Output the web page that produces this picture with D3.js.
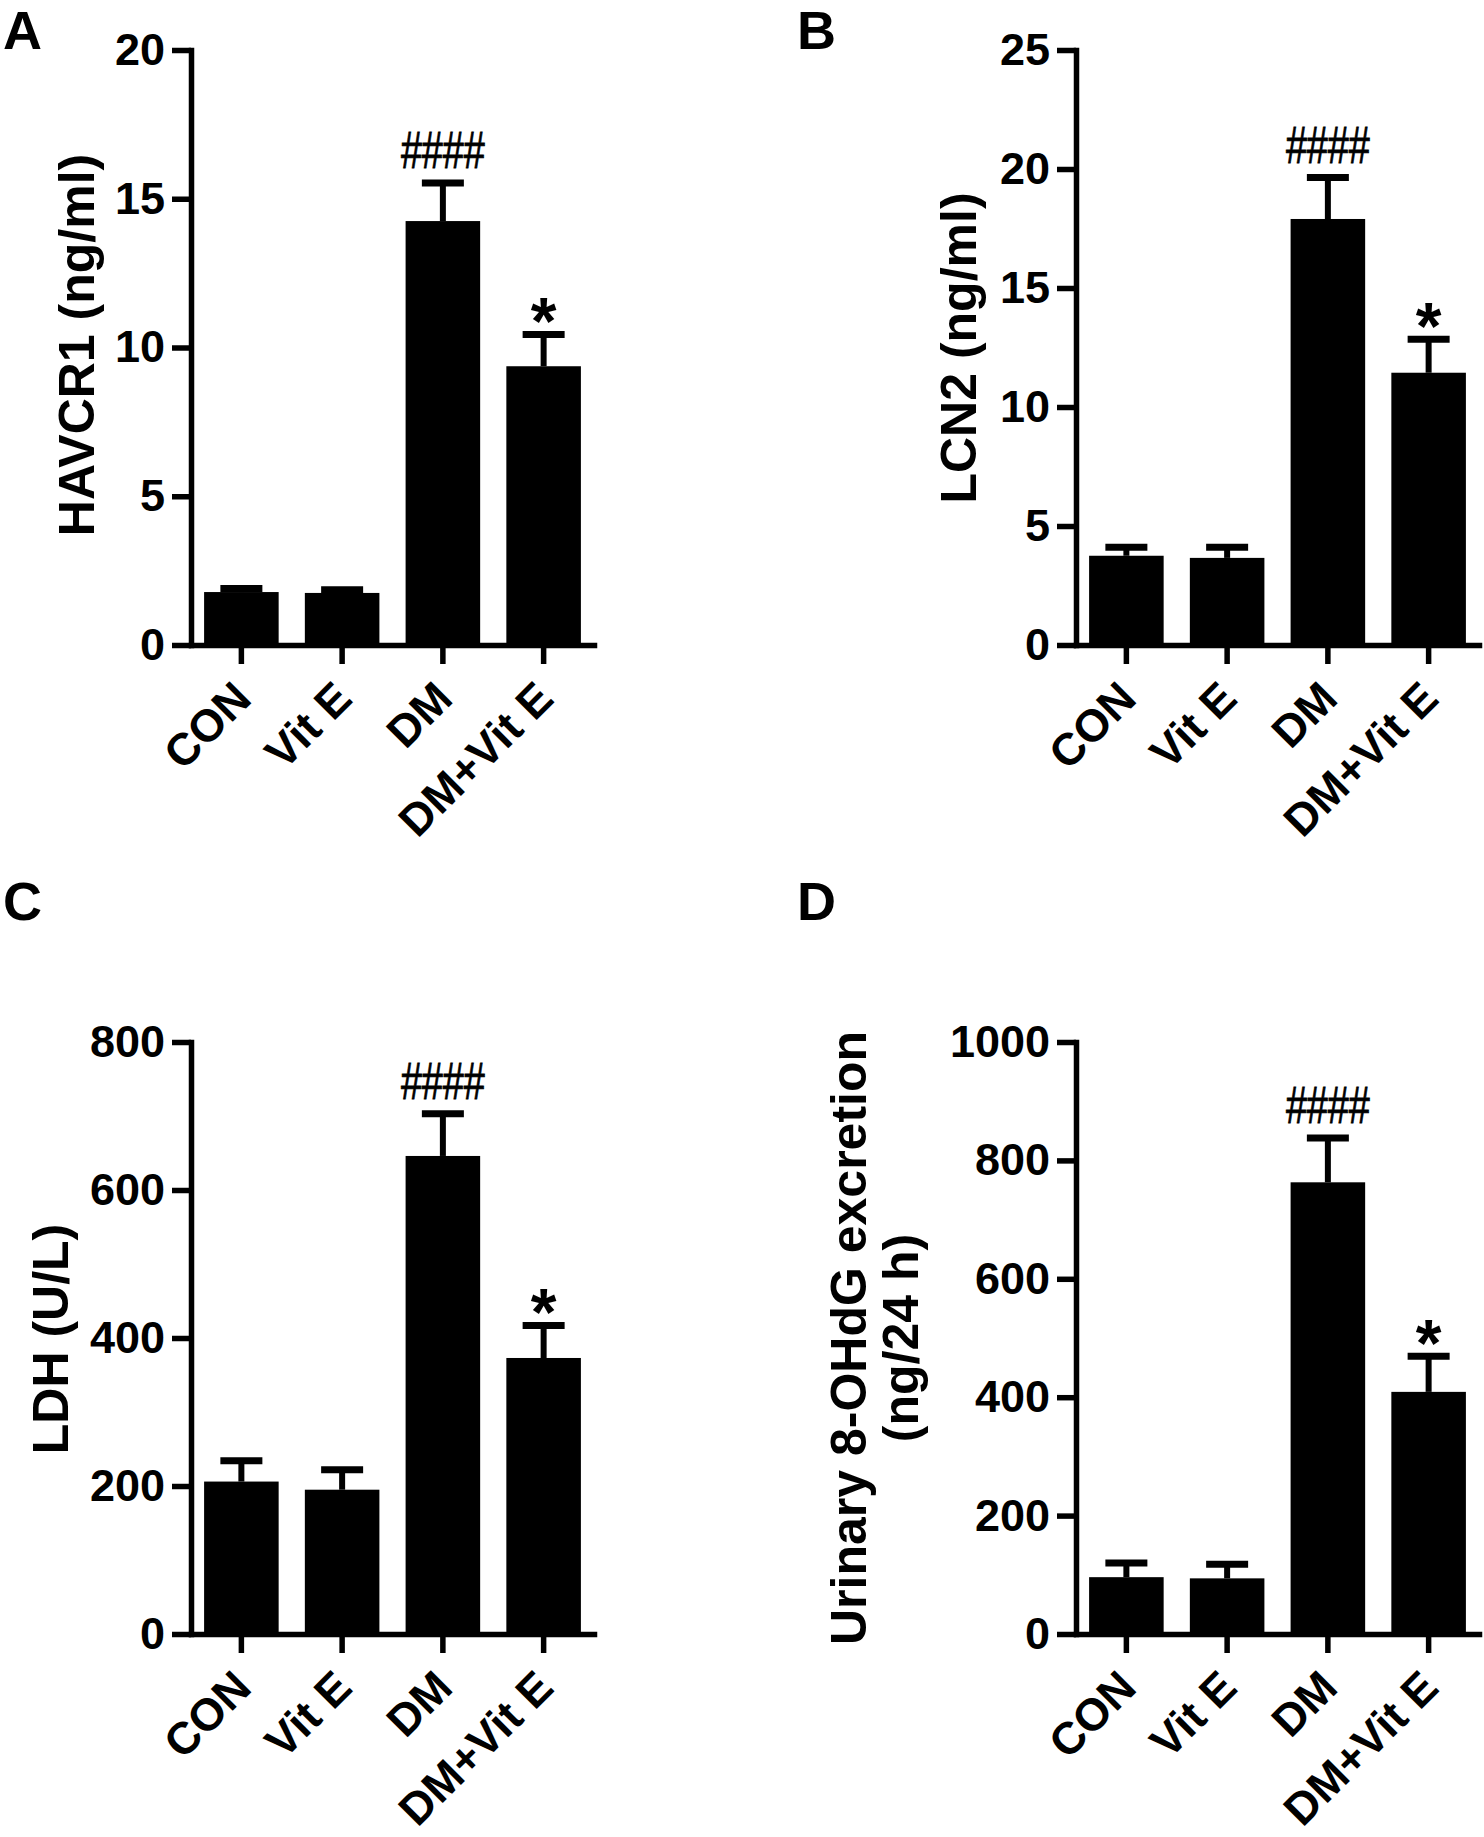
<!DOCTYPE html>
<html>
<head>
<meta charset="utf-8">
<script src="https://cdn.jsdelivr.net/npm/d3@7"></script>
<style>
body { margin: 0; background: #fff; }
text { font-family: "Liberation Sans", Arial, sans-serif; fill: #000; }
</style>
</head>
<body>
<svg id="fig" width="1484" height="1837"></svg>
<script>
var groups = ["CON", "Vit E", "DM", "DM+Vit E"];

var havcr1Mean = [1.78, 1.75, 14.25, 9.37];
var havcr1Err  = [0.12, 0.11, 1.28, 1.07];
var havcr1Ticks = [0, 5, 10, 15, 20];

var lcn2Mean = [3.75, 3.66, 17.9, 11.44];
var lcn2Err  = [0.36, 0.45, 1.74, 1.41];
var lcn2Ticks = [0, 5, 10, 15, 20, 25];

var ldhMean = [206, 195, 646, 373];
var ldhErr  = [28, 27, 57, 44];
var ldhTicks = [0, 200, 400, 600, 800];

var ohdgMean = [96, 94, 763, 409];
var ohdgErr  = [24, 24, 75, 60];
var ohdgTicks = [0, 200, 400, 600, 800, 1000];

var marks = ["", "", "####", "*"];

var panels = [
    {letter: "A", lx: 3, ly: 49, x0: 191, y0: 645, y1: 50,
     mean: havcr1Mean, err: havcr1Err, ticks: havcr1Ticks,
     title: ["HAVCR1 (ng/ml)"], tx: [94], tc: 345},
    {letter: "B", lx: 797, ly: 49, x0: 1076, y0: 645, y1: 50,
     mean: lcn2Mean, err: lcn2Err, ticks: lcn2Ticks,
     title: ["LCN2 (ng/ml)"], tx: [976], tc: 348},
    {letter: "C", lx: 3, ly: 920, x0: 191, y0: 1634, y1: 1042,
     mean: ldhMean, err: ldhErr, ticks: ldhTicks,
     title: ["LDH (U/L)"], tx: [68], tc: 1339},
    {letter: "D", lx: 797, ly: 920, x0: 1076, y0: 1634, y1: 1042,
     mean: ohdgMean, err: ohdgErr, ticks: ohdgTicks,
     title: ["Urinary 8-OHdG excretion", "(ng/24 h)"], tx: [866, 918], tc: 1338}
];

var svg = d3.select("#fig");

panels.forEach(function(p) {
    var x = d3.scaleBand().domain(groups)
        .range([p.x0, p.x0 + 403])
        .paddingInner(0.26).paddingOuter(0.13);
    var y = d3.scaleLinear()
        .domain([0, p.ticks[p.ticks.length - 1]])
        .range([p.y0, p.y1]);

    var g = svg.append("g");

    // bars
    g.selectAll(".bar")
        .data(groups)
        .enter().append("rect")
        .attr("class", "bar")
        .attr("x", function(d) { return x(d); })
        .attr("width", x.bandwidth())
        .attr("y", function(d, i) { return y(p.mean[i]); })
        .attr("height", function(d, i) { return p.y0 - y(p.mean[i]); })
        .attr("fill", "#000");

    // error bars (upper only)
    var cx = function(d) { return x(d) + x.bandwidth() / 2; };
    g.selectAll(".err")
        .data(groups)
        .enter().append("line")
        .attr("x1", cx).attr("x2", cx)
        .attr("y1", function(d, i) { return y(p.mean[i]); })
        .attr("y2", function(d, i) { return y(p.mean[i] + p.err[i]); })
        .attr("stroke", "#000").attr("stroke-width", 6);
    g.selectAll(".cap")
        .data(groups)
        .enter().append("line")
        .attr("x1", function(d) { return cx(d) - 21; })
        .attr("x2", function(d) { return cx(d) + 21; })
        .attr("y1", function(d, i) { return y(p.mean[i] + p.err[i]); })
        .attr("y2", function(d, i) { return y(p.mean[i] + p.err[i]); })
        .attr("stroke", "#000").attr("stroke-width", 7);

    // significance marks
    groups.forEach(function(d, i) {
        if (!marks[i]) return;
        var top = y(p.mean[i] + p.err[i]);
        if (marks[i] == "*") {
            g.append("text")
                .attr("x", cx(d)).attr("y", top + 10)
                .attr("text-anchor", "middle")
                .style("font-size", "66px").style("font-weight", "bold")
                .text(marks[i]);
        } else {
            g.append("text")
                .attr("x", cx(d)).attr("y", top - 15)
                .attr("text-anchor", "middle")
                .attr("textLength", 84).attr("lengthAdjust", "spacingAndGlyphs")
                .attr("stroke", "#000").attr("stroke-width", 0.8)
                .style("font-size", "52px")
                .text(marks[i]);
        }
    });

    // axes
    var yAxis = g.append("g")
        .attr("transform", "translate(" + p.x0 + ",0)")
        .call(d3.axisLeft(y).tickValues(p.ticks).tickFormat(d3.format("d"))
            .tickSize(19).tickPadding(7).tickSizeOuter(0));
    var xAxis = g.append("g")
        .attr("transform", "translate(0," + p.y0 + ")")
        .call(d3.axisBottom(x).tickSize(19).tickPadding(0).tickSizeOuter(0));

    [yAxis, xAxis].forEach(function(a) {
        a.attr("font-family", null).attr("font-size", null);
        a.select(".domain").attr("stroke-width", 5.5).attr("stroke-linecap", "square");
        a.selectAll(".tick line").attr("stroke-width", 5.5);
        a.selectAll(".tick text")
            .style("font-size", "45px").style("font-weight", "bold").attr("fill", "#000");
    });

    xAxis.selectAll(".tick text")
        .attr("y", null).attr("dy", null)
        .attr("text-anchor", "end")
        .attr("transform", "translate(12,56) rotate(-45)");

    // axis title
    p.title.forEach(function(t, j) {
        g.append("text")
            .attr("transform", "translate(" + p.tx[j] + "," + p.tc + ") rotate(-90)")
            .attr("text-anchor", "middle")
            .style("font-size", "50px").style("font-weight", "bold")
            .text(t);
    });

    // panel letter
    g.append("text")
        .attr("x", p.lx).attr("y", p.ly)
        .style("font-size", "54px").style("font-weight", "bold")
        .text(p.letter);
});
</script>
</body>
</html>
